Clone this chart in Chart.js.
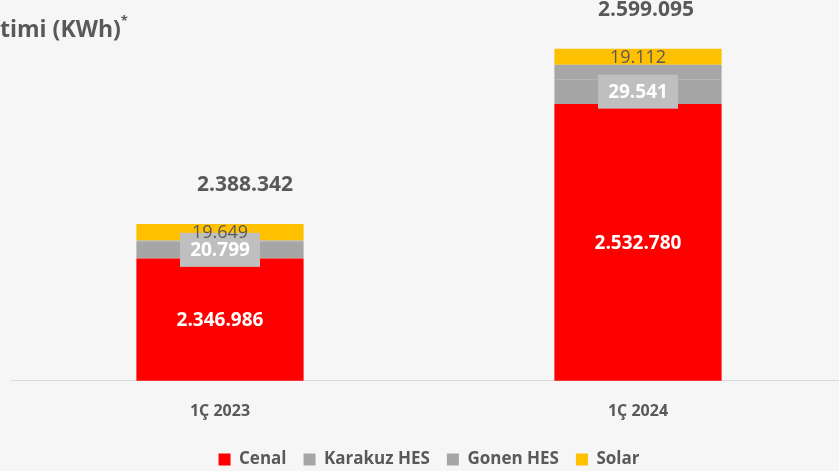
<!DOCTYPE html>
<html>
<head>
<meta charset="utf-8">
<script src="https://cdn.jsdelivr.net/npm/chart.js@4.4.1/dist/chart.umd.min.js"></script>
<style>
  html, body { margin: 0; padding: 0; background: #f6f6f6; overflow: hidden; }
  #wrap { position: absolute; left: 0; top: 0; width: 860px; height: 471px; }
  #title { position: absolute; left: 0; top: 12px; font: bold 23px "Open Sans", sans-serif; color: #595959; white-space: nowrap; }
  #title sup { font-size: 13px; position: relative; top: -3px; }
</style>
</head>
<body>
<div id="wrap"><canvas id="chart" width="860" height="471"></canvas></div>
<div id="title">timi (KWh)<sup>*</sup></div>
<script>
const categories = ['1Ç 2023', '1Ç 2024'];
const cenal = [2346986, 2532780];
const karakuz = [20799, 29541];
const gonen = [908, 17662];
const solar = [19649, 19112];
const totals = [2388342, 2599095];

const textGray = '#595959';
const fmt = v => v.toLocaleString('de-DE');

// etiketler: cenal beyaz, karakuz kutulu, solar koyu gri, toplam üstte
const labelPlugin = {
  id: 'labels',
  afterDatasetsDraw(chart) {
    const ctx = chart.ctx;
    const y = chart.scales.y;
    const area = chart.chartArea;
    ctx.save();
    ctx.textAlign = 'center';
    ctx.textBaseline = 'middle';
    categories.forEach((c, i) => {
      const x = chart.getDatasetMeta(0).data[i].x;
      const top0 = y.getPixelForValue(cenal[i]);
      const top1 = y.getPixelForValue(cenal[i] + karakuz[i]);
      const top2 = y.getPixelForValue(cenal[i] + karakuz[i] + gonen[i]);
      const top3 = y.getPixelForValue(cenal[i] + karakuz[i] + gonen[i] + solar[i]);

      ctx.fillStyle = '#ffffff';
      ctx.font = 'bold 19px "Open Sans"';
      ctx.fillText(fmt(cenal[i]), x, (area.bottom + top0) / 2 + 1);

      const ky = (top0 + top1) / 2;
      ctx.fillStyle = '#bfbfbf';
      ctx.fillRect(x - 40, ky - 17, 80, 34);
      ctx.fillStyle = '#ffffff';
      ctx.fillText(fmt(karakuz[i]), x, ky + 1);

      ctx.fillStyle = textGray;
      ctx.font = '18px "Open Sans"';
      ctx.fillText(fmt(solar[i]), x, (top2 + top3) / 2 + 1);

      ctx.font = 'bold 21px "Open Sans"';
      ctx.fillText(fmt(totals[i]), x + (i === 0 ? 25 : 8), top3 - 39);
    });
    ctx.restore();
  }
};

new Chart(document.getElementById('chart'), {
  type: 'bar',
  data: {
    labels: categories,
    datasets: [
      { label: 'Cenal', data: cenal, backgroundColor: '#ff0000' },
      { label: 'Karakuz HES', data: karakuz, backgroundColor: '#a6a6a6' },
      { label: 'Gonen HES', data: gonen, backgroundColor: '#a6a6a6' },
      { label: 'Solar', data: solar, backgroundColor: '#ffc000' }
    ]
  },
  options: {
    responsive: false,
    animation: false,
    categoryPercentage: 1,
    barPercentage: 0.4,
    layout: { padding: { top: 48, left: 11, right: 13, bottom: 0 } },
    scales: {
      x: {
        stacked: true,
        grid: { display: false },
        border: { display: true, color: '#d9d9d9', width: 1 },
        ticks: { color: textGray, font: { family: 'Open Sans', size: 16, weight: 'bold' }, padding: 13 }
      },
      y: {
        stacked: true,
        display: false,
        min: 2200000,
        max: 2600000
      }
    },
    plugins: {
      legend: {
        position: 'bottom',
        maxHeight: 37,
        labels: {
          color: textGray,
          boxWidth: 12,
          boxHeight: 12,
          padding: 17,
          font: { family: 'Open Sans', size: 17, weight: 'bold' }
        }
      },
      tooltip: { enabled: false }
    }
  },
  plugins: [labelPlugin]
});
</script>
</body>
</html>
